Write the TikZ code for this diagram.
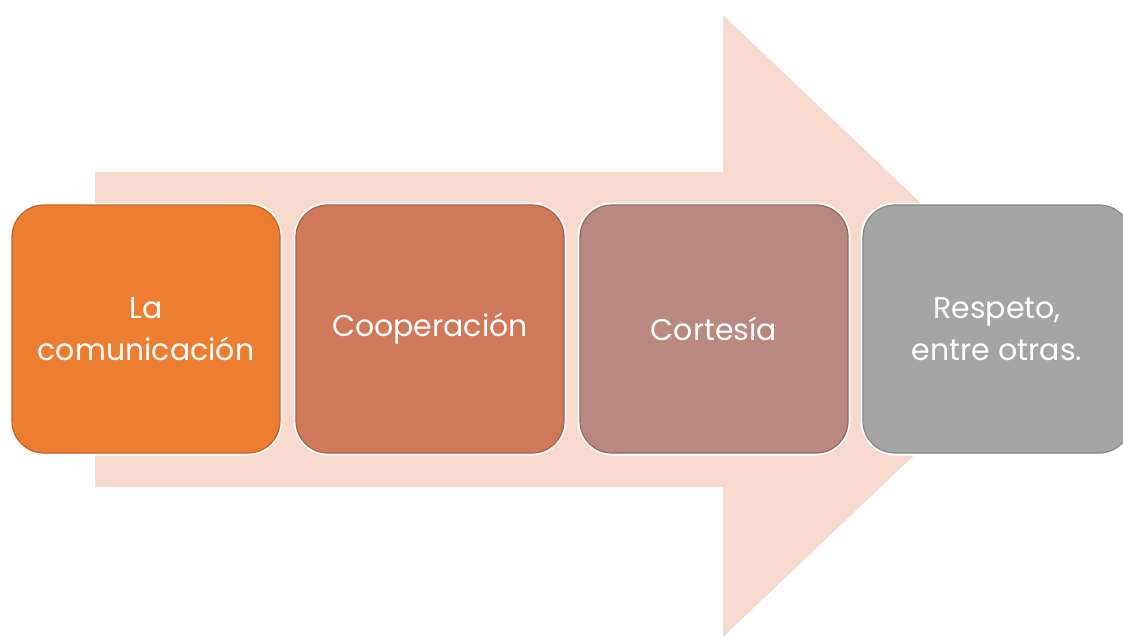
\documentclass[tikz,border=0pt]{standalone}
\usepackage{fontspec}
\setmainfont{Poppins}
\definecolor{arrowfill}{HTML}{F8D9CE}
\definecolor{cA}{HTML}{ED7D31}
\definecolor{cAd}{HTML}{C8601F}
\definecolor{cB}{HTML}{D0785A}
\definecolor{cBd}{HTML}{AE5E43}
\definecolor{cC}{HTML}{B9887F}
\definecolor{cCd}{HTML}{946860}
\definecolor{cD}{HTML}{A5A5A5}
\definecolor{cDd}{HTML}{858585}
\tikzset{
  stepbox/.style={rectangle, rounded corners=32pt, minimum width=268pt, minimum height=248pt,
    inner sep=0pt, line width=1.2pt, text=white, align=center,
    font=\fontsize{30}{42}\selectfont,
    preaction={draw=white, line width=5pt}},
}
\begin{document}
\begin{tikzpicture}[x=1pt,y=-1pt]
\useasboundingbox (0,0) rectangle (1123,637);
% big background arrow
\fill[arrowfill] (95,172) -- (723,172) -- (723,15) -- (1050,326) -- (723,637) -- (723,487) -- (95,487) -- cycle;
% boxes
\node[stepbox, fill=cA, draw=cAd] (b1) at (146,329) {La\\comunicación};
\node[stepbox, fill=cB, draw=cBd] (b2) at (430,329) {Cooperación};
\node[stepbox, fill=cC, draw=cCd] (b3) at (714,329) {Cortesía};
\node[stepbox, fill=cD, draw=cDd] (b4) at (997,329) {Respeto,\\entre otras.};
\end{tikzpicture}
\end{document}
